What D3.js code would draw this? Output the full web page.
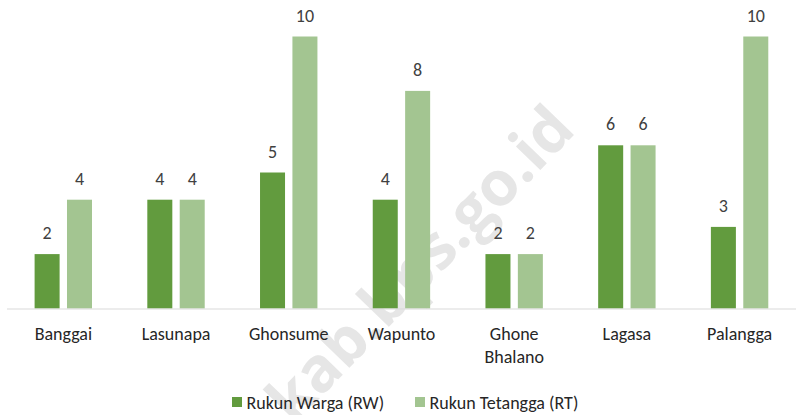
<!DOCTYPE html>
<meta charset="utf-8">
<script src="https://d3js.org/d3.v7.min.js"></script>
<style>
  body { margin: 0; background: #fff; }
  text { font-family: Carlito, "Open Sans", sans-serif; }
</style>
<body>
<script>

// DATA

var categories = ["Banggai", "Lasunapa", "Ghonsume", "Wapunto", "Ghone Bhalano", "Lagasa", "Palangga"];
var seriesNames = ["Rukun Warga (RW)", "Rukun Tetangga (RT)"];
var rwValues = [2, 4, 5, 4, 2, 6, 3];
var rtValues = [4, 4, 10, 8, 2, 6, 10];

var colors = ["#629b3e", "#a3c591"];

var width = 796;
var height = 415;

var margin = { top: 10, left: 7, right: 0, bottom: 106 };


// SVG SETUP

var svg = d3.select("body")
  .append("svg")
  .attr("width", width)
  .attr("height", height);


// WATERMARK (behind bars)

svg.append("text")
  .attr("transform", "translate(418,262) rotate(-46)")
  .attr("text-anchor", "middle")
  .attr("dominant-baseline", "central")
  .style("font-family", "'Open Sans', sans-serif")
  .style("font-weight", "bold")
  .style("font-size", "62px")
  .style("fill", "#e6e6e6")
  .text("kab.bps.go.id");


// SCALES

var x0 = d3.scaleBand()
  .domain(categories)
  .range([margin.left, width - margin.right])
  .padding(0);

var x1 = d3.scaleBand()
  .domain([0, 1])
  .range([27.6, 85.0])
  .paddingInner(0.228);

var y = d3.scaleLinear()
  .domain([0, 10])
  .range([308.5, 36.5]);


// BARS

var rows = categories.map(function(c, i) {
  return { cat: c, vals: [rwValues[i], rtValues[i]] };
});

var groups = svg.selectAll(".grp")
  .data(rows)
  .enter()
  .append("g")
  .attr("class", "grp")
  .attr("transform", function(d) { return "translate(" + x0(d.cat) + ",0)"; });

groups.selectAll("rect")
  .data(function(d) { return d.vals; })
  .enter()
  .append("rect")
  .attr("x", function(d, i) { return x1(i); })
  .attr("y", function(d) { return y(d); })
  .attr("width", x1.bandwidth())
  .attr("height", function(d) { return y(0) - y(d); })
  .attr("fill", function(d, i) { return colors[i]; });

groups.selectAll(".val")
  .data(function(d) { return d.vals; })
  .enter()
  .append("text")
  .attr("class", "val")
  .attr("x", function(d, i) { return x1(i) + x1.bandwidth() / 2; })
  .attr("y", function(d) { return y(d) - 15; })
  .attr("text-anchor", "middle")
  .style("font-size", "18px")
  .style("fill", "#404040")
  .text(function(d) { return d; });


// AXIS

svg.append("line")
  .attr("x1", margin.left)
  .attr("x2", width)
  .attr("y1", y(0) + 0.5)
  .attr("y2", y(0) + 0.5)
  .style("stroke", "#d9d9d9")
  .style("stroke-width", 1);

var labels = svg.selectAll(".cat")
  .data(categories)
  .enter()
  .append("text")
  .attr("class", "cat")
  .attr("text-anchor", "middle")
  .attr("x", function(d) { return x0(d) + x0.bandwidth() / 2; })
  .attr("y", 340)
  .style("font-size", "18px")
  .style("fill", "#262626");

labels.each(function(d) {
  var el = d3.select(this);
  var cx = x0(d) + x0.bandwidth() / 2;
  var words = d == "Ghone Bhalano" ? ["Ghone", "Bhalano"] : [d];
  words.forEach(function(w, i) {
    el.append("tspan")
      .attr("x", cx)
      .attr("dy", i == 0 ? 0 : 23)
      .text(w);
  });
});


// LEGEND

var legendX = [232, 415];

var legend = svg.selectAll(".leg")
  .data(seriesNames)
  .enter()
  .append("g")
  .attr("class", "leg")
  .attr("transform", function(d, i) { return "translate(" + legendX[i] + ",397)"; });

legend.append("rect")
  .attr("width", 10)
  .attr("height", 10)
  .attr("fill", function(d, i) { return colors[i]; });

legend.append("text")
  .attr("x", 14.5)
  .attr("y", 11.5)
  .style("font-size", "18px")
  .style("fill", "#262626")
  .text(function(d) { return d; });

</script>
</body>
